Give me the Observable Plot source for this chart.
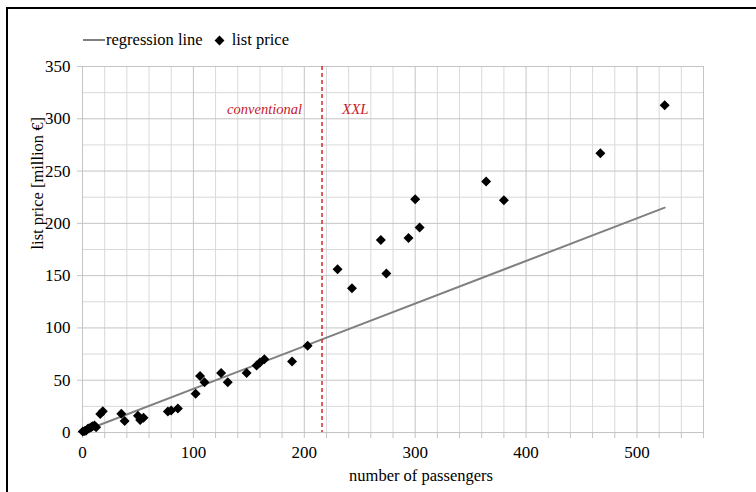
<!DOCTYPE html>
<html>
<head>
<meta charset="utf-8">
<script src="https://cdn.jsdelivr.net/npm/d3@7"></script>
<script src="https://cdn.jsdelivr.net/npm/@observablehq/plot@0.6"></script>
<style>
  html, body { margin: 0; padding: 0; background: #fff; }
  #wrap { position: relative; width: 756px; height: 492px; overflow: hidden; font-family: "Liberation Serif", "Times New Roman", serif; }
  #border { position: absolute; left: 6px; top: 7px; width: 900px; height: 700px; border-top: 2px solid #000; border-left: 2px solid #000; pointer-events: none; }
  #legend { position: absolute; left: 83px; top: 30px; display: flex; align-items: center; font-size: 16.5px; color: #000; white-space: nowrap; }
  #legend .sw-line { width: 22px; height: 2px; background: #808080; margin-right: 1px; }
  #legend .sw-dia { width: 7px; height: 7px; background: #000; transform: rotate(45deg); margin: 0 9px 0 13px; }
  #chart { position: absolute; left: 0; top: 0; }
  #chart svg text { font-family: "Liberation Serif", "Times New Roman", serif; }
</style>
</head>
<body>
<div id="wrap">
  <div id="chart"></div>
  <div id="legend"><span class="sw-line"></span><span>regression line</span><span class="sw-dia"></span><span>list price</span></div>
  <div id="border"></div>
</div>
<script>
// ---- data ----
const passengers = [0.3, 2, 3.3, 4.8, 6, 7.8, 9, 10.8, 12.3, 16, 18.3, 35, 38, 50, 52, 55, 77, 80, 86, 102, 106, 110, 125, 131, 148, 157, 160, 164, 189, 203, 230, 243, 269, 274, 294, 300, 304, 364, 380, 467, 525];
const listPrice  = [1, 1.5, 2, 3.5, 4, 5, 6, 6.7, 5, 17.8, 20.4, 18, 11, 16, 12, 14, 20, 21, 23, 37, 54, 48, 57, 48, 57, 64, 67, 70, 68, 83, 156, 138, 184, 152, 186, 223, 196, 240, 222, 267, 313];
const regressionX = [0, 525];
const regressionY = [1, 215];
const xxlThreshold = 216;
const segmentLabels = ["conventional", "XXL"];
const xTicks = [0, 100, 200, 300, 400, 500];
const yTicks = [0, 50, 100, 150, 200, 250, 300, 350];
const xTitle = "number of passengers";
const yTitle = "list price [million €]";

const points = passengers.map((x, i) => ({x, y: listPrice[i]}));
const regression = regressionX.map((x, i) => ({x, y: regressionY[i]}));

const serif = "'Liberation Serif', 'Times New Roman', serif";
const xMinor = d3.range(0, 561, 20).filter(v => v % 100 !== 0);
const xMajor = d3.range(0, 561, 100).concat([560]);
const yMinor = d3.range(0, 351, 25).filter(v => v % 50 !== 0);

const chart = Plot.plot({
  width: 756,
  height: 492,
  marginLeft: 82,
  marginRight: 53,
  marginTop: 66,
  marginBottom: 60,
  x: {domain: [0, 560]},
  y: {domain: [0, 350]},
  style: {fontFamily: serif, fontSize: "17px", color: "#000", background: "transparent"},
  marks: [
    Plot.gridX(xMinor, {stroke: "#d9d9d9", strokeOpacity: 1}),
    Plot.gridY(yMinor, {stroke: "#d9d9d9", strokeOpacity: 1}),
    Plot.gridX(xMajor, {stroke: "#c4c4c4", strokeOpacity: 1}),
    Plot.gridY(yTicks, {stroke: "#c4c4c4", strokeOpacity: 1}),
    Plot.axisX(d3.range(0, 561, 20), {
      tickSize: 6, tickPadding: 7, stroke: "#c4c4c4", fontSize: 17, fontFamily: serif,
      tickFormat: d => xTicks.includes(d) ? String(d) : "", label: null
    }),
    Plot.axisY(yTicks, {tickSize: 5, tickPadding: 7, stroke: "#c4c4c4", fontSize: 17, fontFamily: serif, label: null}),
    Plot.ruleY([0], {stroke: "#c4c4c4"}),
    Plot.ruleX([0], {stroke: "#c4c4c4"}),
    Plot.line(regression, {x: "x", y: "y", stroke: "#808080", strokeWidth: 2}),
    Plot.ruleX([xxlThreshold], {stroke: "#d6262b", strokeWidth: 1.5, strokeDasharray: "4,3"}),
    Plot.text([segmentLabels[0]], {x: () => xxlThreshold, frameAnchor: "top", dy: 37, dx: -20, textAnchor: "end", fill: "#c8202a", fontStyle: "italic", fontSize: 14.5, fontFamily: serif, text: d => d}),
    Plot.text([segmentLabels[1]], {x: () => xxlThreshold, frameAnchor: "top", dy: 37, dx: 20, textAnchor: "start", fill: "#c8202a", fontStyle: "italic", fontSize: 15, fontFamily: serif, text: d => d}),
    Plot.dot(points, {x: "x", y: "y", symbol: "diamond2", r: 4.5, fill: "#000", stroke: "none"}),
    Plot.text([xTitle], {frameAnchor: "bottom", dx: 28, dy: 48, fontSize: 16.5, fontFamily: serif, fill: "#000", text: d => d}),
    Plot.text([yTitle], {frameAnchor: "left", dx: -45, rotate: -90, fontSize: 16.5, fontFamily: serif, fill: "#000", text: d => d})
  ]
});
document.getElementById("chart").appendChild(chart);
</script>
</body>
</html>
